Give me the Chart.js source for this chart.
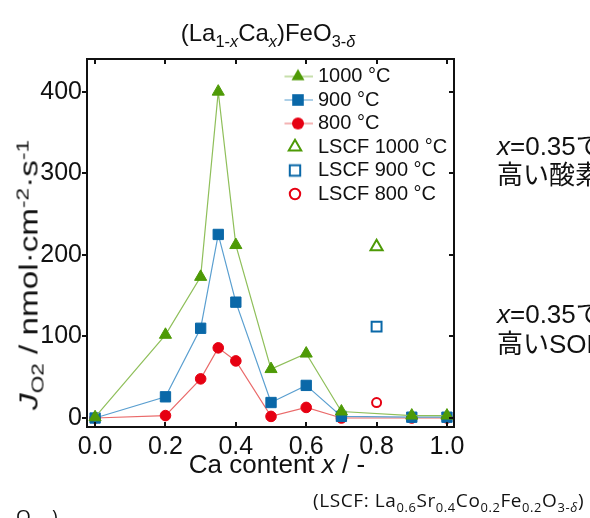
<!DOCTYPE html>
<html>
<head>
<meta charset="utf-8">
<script src="https://cdn.jsdelivr.net/npm/chart.js"></script>
<style>
  html, body { margin: 0; padding: 0; background: #fff; }
  #wrap { position: relative; width: 590px; height: 518px; overflow: hidden;
          font-family: "Liberation Sans", "Noto Sans CJK JP", sans-serif; color: #111; }
  #wrap canvas { position: absolute; left: 0; top: 0; }
  .txt { position: absolute; white-space: nowrap; line-height: 1; }
  .txt sub, .txt sup { font-size: 0.68em; line-height: 0; }
  #title { left: 268px; top: 21px; font-size: 24px; transform: translateX(-50%); }
  #ytitle { left: 29px; top: 275px; font-size: 25px; transform: translate(-50%, -50%) rotate(-90deg) scaleX(1.33); }
  #xtitle { left: 277px; top: 451px; font-size: 26px; transform: translateX(-50%); }
  .note { left: 497px; font-size: 26px; }
  .formula { font-family: "Open Sans", sans-serif; font-size: 19px; letter-spacing: 0.6px; }
  #lscf { left: 313px; top: 491px; }
  #cut { left: 16px; top: 507px; }
</style>
</head>
<body>
<div id="wrap">
  <canvas id="fluxChart" width="590" height="518"></canvas>
  <div class="txt" id="title">(La<sub>1-<i>x</i></sub>Ca<sub><i>x</i></sub>)FeO<sub>3-<i>δ</i></sub></div>
  <div class="txt" id="ytitle"><i>J</i><sub>O2</sub> / nmol·cm<sup>-2</sup>·s<sup>-1</sup></div>
  <div class="txt" id="xtitle">Ca content <i>x</i> / -</div>
  <div class="txt note" style="top:133px"><i>x</i>=0.35で最も</div>
  <div class="txt note" style="top:162px">高い酸素透過性</div>
  <div class="txt note" style="top:301px"><i>x</i>=0.35で最も</div>
  <div class="txt note" style="top:331px">高いSOFC性能</div>
  <div class="txt formula" id="lscf">(LSCF: La<sub>0.6</sub>Sr<sub>0.4</sub>Co<sub>0.2</sub>Fe<sub>0.2</sub>O<sub>3-<i>δ</i></sub>)</div>
  <div class="txt formula" id="cut">O<sub>3-<i>δ</i></sub>)</div>
</div>
<script>
const caContent = [0.0, 0.2, 0.3, 0.35, 0.4, 0.5, 0.6, 0.7, 0.9, 1.0];
const flux1000 = [1, 102, 173, 400, 212, 60, 79, 8, 3, 3];
const flux900 = [0, 26, 110, 225, 142, 19, 40, 2, 1, 1];
const flux800 = [0, 3, 48, 86, 70, 2, 13, 0, 0, 0];

const lscfContent = [0.8];
const lscf1000 = [210];
const lscf900 = [112];
const lscf800 = [19];

const xTicks = [0.0, 0.2, 0.4, 0.6, 0.8, 1.0];
const yTicks = [0, 100, 200, 300, 400];

const green = '#4e9a06';
const blue = '#0a68a8';
const red = '#e60012';

const toPoints = (xs, ys) => xs.map((x, i) => ({ x: x, y: ys[i] }));

// legend glyphs: a short line with the marker on it
function makeIcon(shape, color, filled, withLine, lineColor) {
  const c = document.createElement('canvas');
  c.width = 40;
  c.height = 18;
  const g = c.getContext('2d');
  const cx = withLine ? 20 : 17;
  const cy = 9;
  if (withLine) {
    g.strokeStyle = lineColor;
    g.lineWidth = 1.2;
    g.beginPath();
    g.moveTo(0, cy);
    g.lineTo(35, cy);
    g.stroke();
  }
  g.beginPath();
  if (shape === 'triangle') {
    const r = filled ? 7.5 : 7.2;
    g.moveTo(cx, cy - r);
    g.lineTo(cx + r * 0.866, cy + r / 2);
    g.lineTo(cx - r * 0.866, cy + r / 2);
    g.closePath();
  } else if (shape === 'rect') {
    const s = filled ? 5.8 : 5.2;
    g.rect(cx - s, cy - s, 2 * s, 2 * s);
  } else {
    g.arc(cx, cy, filled ? 6 : 5.2, 0, Math.PI * 2);
  }
  if (filled) {
    g.fillStyle = color;
    g.fill();
  } else {
    g.fillStyle = '#fff';
    g.fill();
    g.strokeStyle = color;
    g.lineWidth = 2;
    g.stroke();
  }
  return c;
}

const legendIcons = [
  makeIcon('triangle', green, true, true, '#8fbf5a'),
  makeIcon('rect', blue, true, true, '#5a9fd0'),
  makeIcon('circle', red, true, true, '#ea6a6a'),
  makeIcon('triangle', green, false, false),
  makeIcon('rect', blue, false, false),
  makeIcon('circle', red, false, false)
];

const frameAndTicks = {
  id: 'frameAndTicks',
  afterDraw(chart) {
    const { ctx, chartArea: a, scales: { x, y } } = chart;
    ctx.save();
    ctx.strokeStyle = '#111';
    ctx.lineWidth = 2;
    ctx.strokeRect(a.left, a.top, a.right - a.left, a.bottom - a.top);
    ctx.beginPath();
    x.ticks.forEach(t => {
      const px = Math.round(x.getPixelForValue(t.value));
      ctx.moveTo(px, a.bottom);
      ctx.lineTo(px, a.bottom - 5);
      ctx.moveTo(px, a.top);
      ctx.lineTo(px, a.top + 5);
    });
    y.ticks.forEach(t => {
      const py = Math.round(y.getPixelForValue(t.value));
      ctx.moveTo(a.left - 5, py);
      ctx.lineTo(a.left, py);
      ctx.moveTo(a.right, py);
      ctx.lineTo(a.right - 5, py);
    });
    ctx.stroke();
    ctx.restore();
  }
};

// put the legend box inside the plot, upper right
const legendPlace = {
  id: 'legendPlace',
  beforeDraw(chart) {
    const lg = chart.legend;
    const w = lg.width, h = lg.height;
    lg.left = 284.5;
    lg.top = 63;
    lg.right = lg.left + w;
    lg.bottom = lg.top + h;
  }
};

Chart.defaults.font.family = '"Liberation Sans", Arial, sans-serif';
Chart.defaults.color = '#111';

new Chart(document.getElementById('fluxChart'), {
  type: 'scatter',
  data: {
    datasets: [
      {
        label: '1000 °C',
        data: toPoints(caContent, flux1000),
        showLine: true,
        borderColor: '#8fbf5a',
        borderWidth: 1.2,
        pointStyle: 'triangle',
        pointRadius: 7,
        pointBackgroundColor: green,
        pointBorderColor: green,
        pointBorderWidth: 1
      },
      {
        label: '900 °C',
        data: toPoints(caContent, flux900),
        showLine: true,
        borderColor: '#5a9fd0',
        borderWidth: 1.2,
        pointStyle: 'rect',
        pointRadius: 7.3,
        pointBackgroundColor: blue,
        pointBorderColor: blue,
        pointBorderWidth: 1
      },
      {
        label: '800 °C',
        data: toPoints(caContent, flux800),
        showLine: true,
        borderColor: '#ea6a6a',
        borderWidth: 1.2,
        pointStyle: 'circle',
        pointRadius: 5.3,
        pointBackgroundColor: red,
        pointBorderColor: red,
        pointBorderWidth: 1
      },
      {
        label: 'LSCF 1000 °C',
        data: toPoints(lscfContent, lscf1000),
        pointStyle: 'triangle',
        pointRadius: 7,
        pointBackgroundColor: '#fff',
        pointBorderColor: green,
        pointBorderWidth: 2
      },
      {
        label: 'LSCF 900 °C',
        data: toPoints(lscfContent, lscf900),
        pointStyle: 'rect',
        pointRadius: 7,
        pointBackgroundColor: '#fff',
        pointBorderColor: blue,
        pointBorderWidth: 2
      },
      {
        label: 'LSCF 800 °C',
        data: toPoints(lscfContent, lscf800),
        pointStyle: 'circle',
        pointRadius: 4.5,
        pointBackgroundColor: '#fff',
        pointBorderColor: red,
        pointBorderWidth: 2
      }
    ]
  },
  options: {
    responsive: false,
    animation: false,
    clip: false,
    layout: {
      padding: { left: 0, top: 59, right: 136, bottom: 0 }
    },
    scales: {
      x: {
        type: 'linear',
        min: -0.023,
        max: 1.02,
        grid: { display: false, drawTicks: false },
        border: { display: false },
        afterBuildTicks: s => { s.ticks = xTicks.map(v => ({ value: v })); },
        afterFit: s => { s.height = 91; },
        ticks: {
          padding: 5,
          maxRotation: 0,
          autoSkip: false,
          font: { size: 25 },
          callback: v => Number(v).toFixed(1)
        }
      },
      y: {
        min: -11,
        max: 440,
        grid: { display: false, drawTicks: false },
        border: { display: false },
        afterBuildTicks: s => { s.ticks = yTicks.map(v => ({ value: v })); },
        afterFit: s => { s.width = 87; },
        ticks: {
          padding: 5,
          font: { size: 25 },
          callback: v => v
        }
      }
    },
    plugins: {
      tooltip: { enabled: false },
      legend: {
        position: 'chartArea',
        align: 'start',
        labels: {
          usePointStyle: true,
          padding: 3.5,
          color: '#111',
          font: { size: 20 },
          generateLabels: chart => chart.data.datasets.map((ds, i) => ({
            text: ds.label,
            pointStyle: legendIcons[i],
            fillStyle: '#fff',
            strokeStyle: '#fff',
            lineWidth: 0,
            hidden: !chart.isDatasetVisible(i),
            datasetIndex: i,
            fontColor: '#111'
          }))
        }
      }
    }
  },
  plugins: [legendPlace, frameAndTicks]
});
</script>
</body>
</html>
